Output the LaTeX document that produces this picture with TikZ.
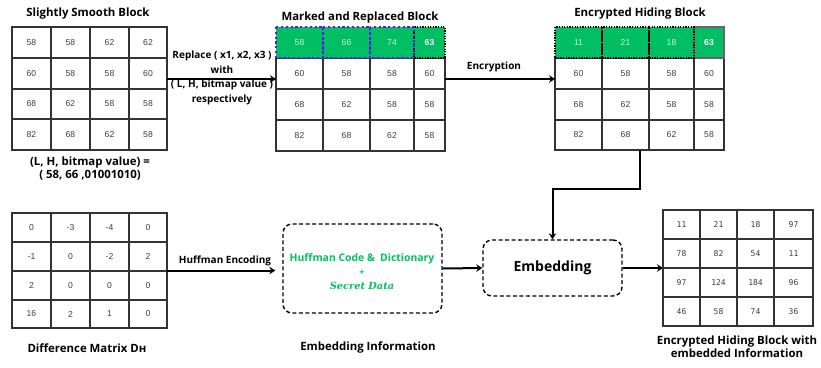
\documentclass[tikz,border=0pt]{standalone}
\usepackage{fontspec}
\setmainfont{Open Sans}
\newfontfamily\numfont{Liberation Sans}
\newfontfamily\monofont{DejaVu Sans Mono}
\newfontfamily\seriffont{DejaVu Serif}
\usetikzlibrary{arrows.meta,fit,calc}

\definecolor{cellgreen}{HTML}{00BF63}
\definecolor{markpurple}{HTML}{5E17EB}
\definecolor{gridgray}{HTML}{333333}
\definecolor{numgray}{HTML}{3C3C3C}
\definecolor{textgreen}{HTML}{00C060}

\tikzset{
  title/.style={font=\bfseries\fontsize{11.4}{13}\selectfont, align=center, inner sep=0},
  note/.style={font=\bfseries\fontsize{10}{14.6}\selectfont, align=center, inner sep=0},
  cell/.style={draw=gridgray, line width=1.1pt, inner sep=0, outer sep=0,
    font=\numfont\fontsize{8.6}{9}\selectfont, text=numgray},
  monocell/.style={font=\monofont\fontsize{8}{9}\selectfont},
  greencell/.style={fill=cellgreen, inner sep=0, outer sep=0,
    font=\numfont\fontsize{8.6}{9}\selectfont, text=white!80!cellgreen},
  keycell/.style={font=\numfont\bfseries\fontsize{8.6}{9}\selectfont, text=white},
  purpledots/.style={draw=markpurple, line width=2.2pt, dash pattern=on 2.2pt off 2.6pt},
  blackdots/.style={draw=black, line width=1.3pt, dash pattern=on 1.3pt off 1.3pt},
  procbox/.style={draw=black, line width=1.4pt, dash pattern=on 4pt off 2.5pt,
    rounded corners=9pt, inner sep=0},
  arr/.style={draw=black, line width=2pt, -{Stealth[length=6pt,width=7.5pt]}},
  frame/.style={inner sep=0, outer sep=0},
}

% One 4-column grid of valued cells: name, column edges, row edges, values, extra style
\newcommand\valuegrid[5]{%
  \foreach \v [count=\k from 0] in {#4} {%
    \pgfmathtruncatemacro\cc{mod(\k,4)}%
    \pgfmathtruncatemacro\rr{div(\k,4)}%
    \pgfmathsetmacro\xl{{#2}[\cc]}%
    \pgfmathsetmacro\xr{{#2}[\cc+1]}%
    \pgfmathsetmacro\yt{{#3}[\rr]}%
    \pgfmathsetmacro\yb{{#3}[\rr+1]}%
    \node[cell, #5, minimum width={(\xr-\xl)*1pt}, minimum height={(\yb-\yt)*1pt}]
      (#1-\rr-\cc) at ({(\xl+\xr)/2},{(\yt+\yb)/2}) {\v};
  }%
}

\begin{document}
\begin{tikzpicture}[x=1pt, y=-1pt]
\useasboundingbox (0,0) rectangle (821,367);

% ---- Slightly smooth block ----
\valuegrid{m1}{12,51,90,129,167}{27,58,89,119,150}
  {58,58,62,62, 60,58,58,60, 68,62,58,58, 82,68,62,58}{}
\node[frame, fit={(m1-0-0) (m1-3-3)}] (m1) {};
\node[title] (t1) at (88,14) {Slightly Smooth Block};
\node[title] (lh) at (90,169) {(L, H, bitmap value) =\\( 58, 66 ,01001010)};

% ---- Marked and replaced block ----
\valuegrid{m2}{276,323,370,414,445}{58,89,120,151}
  {60,58,58,60, 68,62,58,58, 82,68,62,58}{}
\node[greencell, minimum width=47pt, minimum height=31pt] (m2t-0) at (299.5,42.5) {58};
\node[greencell, minimum width=47pt, minimum height=31pt] (m2t-1) at (346.5,42.5) {66};
\node[greencell, minimum width=44pt, minimum height=31pt] (m2t-2) at (392,42.5) {74};
\node[greencell, keycell, minimum width=31pt, minimum height=31pt] (m2t-3) at (429.5,42.5) {63};
\draw[blackdots] (m2t-3.north west) rectangle (m2t-3.south east);
\foreach \c in {0,1,2}
  \draw[purpledots] (m2t-\c.north west) rectangle (m2t-\c.south east);
\node[frame, fit={(m2t-0) (m2-2-3)}] (m2) {};
\node[title] (t2) at (360,18) {Marked and Replaced Block};

% ---- Encrypted hiding block ----
\valuegrid{m3}{555,602,649,694,724}{58,89,120,150}
  {60,58,58,60, 68,62,58,58, 82,68,62,58}{}
\node[greencell, minimum width=47pt, minimum height=31pt] (m3t-0) at (578.5,42.5) {11};
\node[greencell, minimum width=47pt, minimum height=31pt] (m3t-1) at (625.5,42.5) {21};
\node[greencell, minimum width=45pt, minimum height=31pt] (m3t-2) at (671.5,42.5) {18};
\node[greencell, keycell, minimum width=30pt, minimum height=31pt,
      draw=gray!80!black, line width=1.5pt] (m3t-3) at (709,42.5) {63};
\foreach \c in {0,1,2}
  \draw[blackdots] (m3t-\c.north west) rectangle (m3t-\c.south east);
\node[frame, fit={(m3t-0) (m3-2-3)}] (m3) {};
\node[title] (t3) at (640,14) {Encrypted Hiding Block};

% ---- Difference matrix ----
\valuegrid{m5}{12,51,90,129,167}{213,242,271,300,328}
  {0,-3,-4,0, -1,0,-2,2, 2,0,0,0, 16,2,1,0}{}
\node[frame, fit={(m5-0-0) (m5-3-3)}] (m5) {};
\node[title] (t5) at (87,348) {Difference Matrix Dн};

% ---- Encrypted hiding block with embedded information ----
\valuegrid{m4}{663,700,737,774,813}{210,239,268,297,326}
  {11,21,18,97, 78,82,54,11, 97,124,184,96, 46,58,74,36}{monocell}
\node[frame, fit={(m4-0-0) (m4-3-3)}] (m4) {};
\node[title] (t4) at (737,346.5) {Encrypted Hiding Block with\\embedded Information};

% ---- Process boxes ----
\node[procbox, minimum width=159pt, minimum height=89pt] (huff) at (362.5,268.5) {};
\node[font=\bfseries\fontsize{10.4}{14}\selectfont, text=textgreen, align=center, inner sep=0]
  (hufftext) at (362,272)
  {Huffman Code \&\ \ Dictionary\\{\fontsize{9}{9}\selectfont+}\\{\seriffont\bfseries\itshape\fontsize{9.8}{14}\selectfont Secret Data}};
\node[title] (t6) at (368,348) {Embedding Information};

\node[procbox, minimum width=139pt, minimum height=56pt,
      font=\bfseries\fontsize{14}{16}\selectfont] (emb) at (552.5,268) {Embedding};

% ---- Connectors ----
\draw[arr] (m1.east |- 0,79) -- (m2.west |- 0,79);
\node[note] (replace) at (222,78) {Replace ( x1, x2, x3 )\\with\\( L, H, bitmap value )\\respectively};

\draw[arr] (m2.east |- 0,79) -- (m3.west |- 0,79);
\node[note] (enc) at (494,67) {Encryption};

\draw[arr] (m3.south) -- ++(0,39) -| (emb.north);

\draw[arr, shorten >=7pt] (m5.east) -- (m5.east -| huff.west);
\node[note] (huffenc) at (225,261) {Huffman Encoding};

\draw[arr] (huff.east) -- (emb.west);
\draw[arr] (emb.east) -- (m4.west);
\end{tikzpicture}
\end{document}
